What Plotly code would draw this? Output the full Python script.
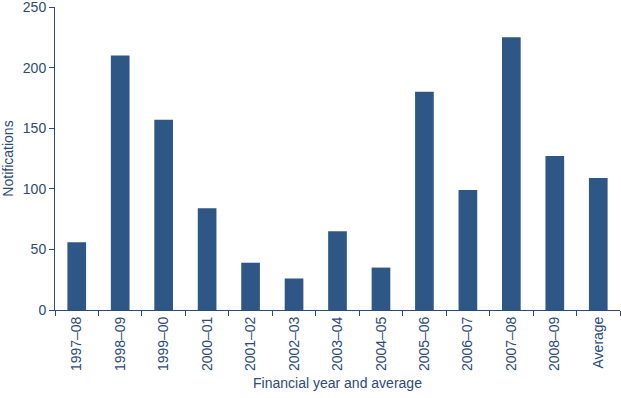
import plotly.graph_objects as go

categories = ["1997–08", "1998–09", "1999–00", "2000–01", "2001–02", "2002–03",
              "2003–04", "2004–05", "2005–06", "2006–07", "2007–08", "2008–09", "Average"]
notifications = [56, 210, 157, 84, 39, 26, 65, 35, 180, 99, 225, 127, 109]
y_ticks = [0, 50, 100, 150, 200, 250]

bar_color = "#2F5785"
text_color = "#2C4A78"

fig = go.Figure(go.Bar(
    x=categories, y=notifications,
    marker=dict(color=bar_color, line=dict(width=0)),
))

fig.update_layout(
    width=621, height=398,
    margin=dict(l=55, r=1, t=7, b=88),
    paper_bgcolor="white", plot_bgcolor="white",
    bargap=0.57,
    showlegend=False,
    font=dict(family="Liberation Sans, Arial, sans-serif", size=14, color=text_color),
)
fig.update_xaxes(
    type="category",
    tickangle=-90,
    tickson="boundaries",
    ticks="outside", ticklen=5, tickcolor=text_color, tickwidth=1,
    showline=True, linecolor=text_color, linewidth=1,
    showgrid=False, zeroline=False,
    automargin=False,
    title=dict(text="Financial year and average", standoff=8, font=dict(size=14)),
)
fig.update_yaxes(
    range=[0, 250], tickvals=y_ticks,
    ticks="outside", ticklen=5, tickcolor=text_color, tickwidth=1,
    showline=True, linecolor=text_color, linewidth=1,
    showgrid=False, zeroline=False,
    automargin=False,
    ticklabeloverflow="allow",
    title=dict(text="Notifications", standoff=6, font=dict(size=14)),
)

fig.write_html("out.html")
